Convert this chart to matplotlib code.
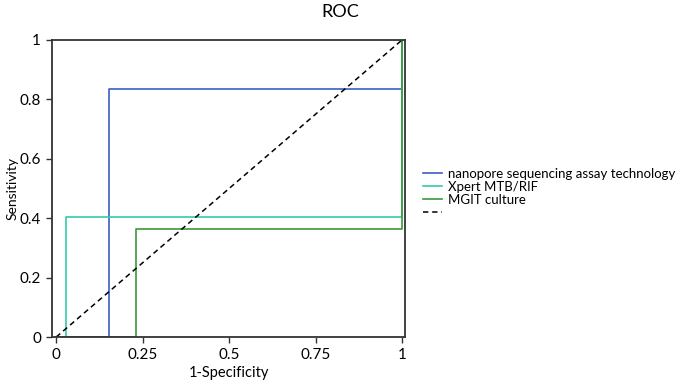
import matplotlib
matplotlib.use('Agg')
import matplotlib.pyplot as plt

plt.rcParams['font.family'] = ['Lato', 'DejaVu Sans']

# ROC 曲線のデータ
fpr_nanopore = [0, 0.154, 0.154, 1, 1]
tpr_nanopore = [0, 0, 0.833, 0.833, 1]
fpr_xpert = [0, 0.027, 0.027, 1, 1]
tpr_xpert = [0, 0, 0.405, 0.405, 1]
fpr_mgit = [0, 0.231, 0.231, 1, 1]
tpr_mgit = [0, 0, 0.363, 0.363, 1]
ref_line = [0, 1]

labels = ['nanopore sequencing assay technology', 'Xpert MTB/RIF', 'MGIT culture', '']
colors = ['#3a5fc4', '#35c9ad', '#3a9a3a']
xticks = [0, 0.25, 0.5, 0.75, 1]
xtick_labels = ['0', '0.25', '0.5', '0.75', '1']
yticks = [0, 0.2, 0.4, 0.6, 0.8, 1]
ytick_labels = ['0', '0.2', '0.4', '0.6', '0.8', '1']

fig = plt.figure(figsize=(6.8, 3.83), dpi=100)
ax = fig.add_axes([0.0765, 0.12, 0.5195, 0.776])

h1, = ax.plot(fpr_nanopore, tpr_nanopore, color=colors[0], lw=1.2)
h2, = ax.plot(fpr_xpert, tpr_xpert, color=colors[1], lw=1.2)
h3, = ax.plot(fpr_mgit, tpr_mgit, color=colors[2], lw=1.2)
h4, = ax.plot(ref_line, ref_line, color='black', lw=1.1, ls=(0, (3.5, 2.5)))

ax.set_xlim(-0.012, 1.009)
ax.set_ylim(0, 1)
ax.set_xticks(xticks)
ax.set_xticklabels(xtick_labels)
ax.set_yticks(yticks)
ax.set_yticklabels(ytick_labels)
ax.tick_params(labelsize=11, length=4, width=1, color='#333333', pad=4)
for s in ax.spines.values():
    s.set_linewidth(1.3)
    s.set_color('#333333')

ax.set_xlabel('1-Specificity', fontsize=10.5, labelpad=3)
ax.set_ylabel('Sensitivity', fontsize=10, labelpad=1)
fig.suptitle('ROC', x=0.5, y=0.99, fontsize=13)

fig.legend([h1, h2, h3, h4], labels, loc='center left',
           bbox_to_anchor=(0.605, 0.495), frameon=False, fontsize=9.5,
           handlelength=1.4, handletextpad=0.5, labelspacing=0.08)

fig.savefig('out.png', dpi=100)
